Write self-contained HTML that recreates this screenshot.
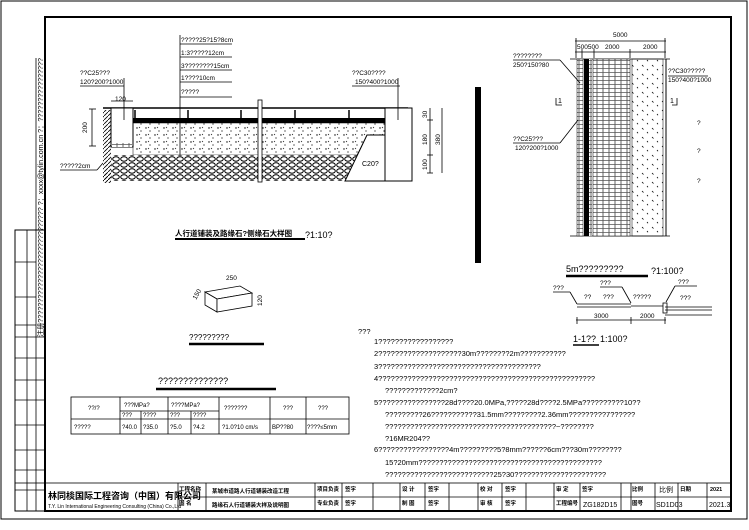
<!DOCTYPE html>
<html><head><meta charset="utf-8"><style>
html,body{margin:0;padding:0;background:#fff}
svg{display:block}
text{font-family:"Liberation Sans","Noto Sans CJK SC",sans-serif;fill:#000}
</style></head><body>
<svg width="749" height="530" viewBox="0 0 749 530" xmlns="http://www.w3.org/2000/svg">
<defs>
<pattern id="hatch" width="4" height="4" patternUnits="userSpaceOnUse"><path d="M0 4L4 0" stroke="#000" stroke-width="0.8"/></pattern>
<pattern id="dots" width="9" height="7" patternUnits="userSpaceOnUse"><circle cx="2" cy="2" r="0.7"/><circle cx="6" cy="5" r="0.6"/><path d="M4 1l1 1" stroke="#000" stroke-width="0.6"/></pattern>
<pattern id="gravel" width="8" height="6" patternUnits="userSpaceOnUse"><rect width="8" height="6" fill="#fff"/><ellipse cx="4" cy="3" rx="3.3" ry="2.2" fill="none" stroke="#000" stroke-width="1"/></pattern>
<pattern id="brick" width="6" height="4" patternUnits="userSpaceOnUse"><rect width="6" height="4" fill="#fff"/><path d="M0 0.5H6M3 0.5V4" stroke="#000" stroke-width="0.6"/></pattern>
<pattern id="pdots" width="10" height="9" patternUnits="userSpaceOnUse"><path d="M2 2l1.5 1.5M7 6l1 1.2" stroke="#000" stroke-width="0.8"/></pattern>
</defs>
<rect x="1" y="1" width="746" height="518" fill="none" stroke="#000" stroke-width="1"/>
<rect x="45" y="17" width="686" height="494" fill="none" stroke="#000" stroke-width="2"/>
<!-- left strip -->
<rect x="15" y="230" width="30" height="281" fill="none" stroke="#000" stroke-width="1"/>
<line x1="27" y1="230" x2="27" y2="511" stroke="#000" stroke-width="0.8"/>
<line x1="36" y1="58" x2="36" y2="511" stroke="#000" stroke-width="0.8"/>
<g stroke="#000" stroke-width="0.8">
<line x1="15" y1="262" x2="36" y2="262"/><line x1="15" y1="297" x2="36" y2="297"/><line x1="15" y1="325" x2="36" y2="325"/><line x1="15" y1="337" x2="45" y2="337"/><line x1="15" y1="358" x2="45" y2="358"/><line x1="15" y1="380" x2="45" y2="380"/><line x1="15" y1="400" x2="45" y2="400"/><line x1="15" y1="425" x2="45" y2="425"/><line x1="15" y1="450" x2="45" y2="450"/><line x1="15" y1="470" x2="45" y2="470"/><line x1="15" y1="490" x2="45" y2="490"/>
</g>
<text transform="translate(43,337) rotate(-90)" font-size="7" textLength="279" lengthAdjust="spacingAndGlyphs">注册?????????????????????????????  ?：xxxx@tylin.com.cn  ?：????????????????</text>
<!-- top-left section -->
<rect x="103" y="110" width="8" height="73" fill="url(#hatch)"/>
<rect x="103" y="173" width="242" height="8" fill="url(#hatch)"/>
<line x1="103" y1="108" x2="408" y2="108" stroke="#000" stroke-width="1.5"/>
<rect x="111" y="108" width="22" height="39" fill="#fff" stroke="#000"/>
<rect x="112" y="143" width="20" height="4" fill="url(#brick)"/>
<rect x="133" y="118" width="252" height="5" fill="#000"/>
<polygon points="133,123 385,123 385,135 367,135 357,155 133,155" fill="url(#dots)" stroke="#000" stroke-width="0.5"/>
<polygon points="111,155 357,155 349,173 111,173" fill="url(#gravel)"/>
<polygon points="111,173 349,173 345,181 111,181" fill="url(#gravel)"/>
<polygon points="367,135 385,135 385,181 345,181" fill="#fff" stroke="#000"/>
<text x="362" y="166" font-size="7">C20?</text>
<rect x="385" y="108" width="27" height="73" fill="#fff" stroke="#000"/>
<rect x="258" y="100" width="4" height="82" fill="#fff" stroke="#000" stroke-width="0.8"/>
<g stroke="#000" stroke-width="1.5"><line x1="135" y1="110" x2="135" y2="118"/><line x1="188" y1="110" x2="188" y2="118"/><line x1="241" y1="110" x2="241" y2="118"/><line x1="295" y1="110" x2="295" y2="118"/><line x1="349" y1="110" x2="349" y2="118"/></g>
<g stroke="#000" stroke-width="0.8" fill="none">
<line x1="180" y1="35" x2="180" y2="155"/>
<line x1="180" y1="44" x2="232" y2="44"/><line x1="180" y1="57" x2="232" y2="57"/><line x1="180" y1="70" x2="232" y2="70"/><line x1="180" y1="82" x2="232" y2="82"/><line x1="180" y1="97" x2="232" y2="97"/>
<line x1="80" y1="86" x2="124" y2="86"/><line x1="124" y1="78" x2="124" y2="120"/>
<line x1="352" y1="86" x2="400" y2="86"/><line x1="398" y1="78" x2="398" y2="120"/>
<line x1="60" y1="170" x2="97" y2="170"/><line x1="97" y1="170" x2="103" y2="163"/>
<line x1="92" y1="109" x2="92" y2="146"/><line x1="89" y1="109" x2="96" y2="109"/><line x1="89" y1="146" x2="96" y2="146"/>
<line x1="111" y1="101" x2="133" y2="101"/>
<line x1="430" y1="108" x2="430" y2="173"/><line x1="442" y1="108" x2="442" y2="173"/>
<line x1="427" y1="120" x2="433" y2="120"/><line x1="427" y1="155" x2="433" y2="155"/><line x1="427" y1="173" x2="433" y2="173"/>
</g>
<g font-size="6.5">
<text x="181" y="42">?????25?15?8cm</text><text x="181" y="55">1:3?????12cm</text><text x="181" y="68">3????????15cm</text><text x="181" y="80">1????10cm</text><text x="181" y="94">?????</text>
<text x="80" y="75">??C25???</text><text x="80" y="84">120?200?1000</text>
<text x="352" y="75">??C30????</text><text x="355" y="84">150?400?1000</text>
<text x="60" y="168">?????2cm</text><text x="115" y="101">120</text>
<text transform="translate(87,133) rotate(-90)">200</text>
<text transform="translate(427,118) rotate(-90)">30</text>
<text transform="translate(427,145) rotate(-90)">180</text>
<text transform="translate(427,170) rotate(-90)">100</text>
<text transform="translate(440,145) rotate(-90)">380</text>
</g>
<text x="175" y="236" font-size="7.5" font-weight="bold">人行道铺装及路缘石?侧缘石大样图</text>
<line x1="175" y1="239" x2="305" y2="239" stroke="#000" stroke-width="2"/>
<text x="305" y="238" font-size="9">?1:10?</text>
<!-- curb stone -->
<g stroke="#000" stroke-width="0.8" fill="#fff">
<polygon points="205,292 240,286 252,293 217,299"/>
<polygon points="205,292 217,299 217,312 205,305"/>
<polygon points="217,299 252,293 252,306 217,312"/>
</g>
<g font-size="6.5"><text x="226" y="280">250</text><text transform="translate(196,300) rotate(-60)">150</text><text transform="translate(262,306) rotate(-90)">120</text></g>
<text x="189" y="340" font-size="8">?????????</text>
<line x1="189" y1="344" x2="264" y2="344" stroke="#000" stroke-width="2.5"/>
<!-- table -->
<text x="158" y="384" font-size="9">??????????????</text>
<line x1="156" y1="389" x2="276" y2="389" stroke="#000" stroke-width="2.5"/>
<g stroke="#000" stroke-width="0.8" fill="none">
<rect x="71" y="397" width="278" height="37"/>
<line x1="71" y1="419" x2="349" y2="419"/>
<line x1="120" y1="411" x2="219" y2="411"/>
<line x1="120" y1="397" x2="120" y2="434"/><line x1="141" y1="411" x2="141" y2="434"/><line x1="168" y1="397" x2="168" y2="434"/><line x1="191" y1="411" x2="191" y2="434"/><line x1="219" y1="397" x2="219" y2="434"/><line x1="270" y1="397" x2="270" y2="434"/><line x1="306" y1="397" x2="306" y2="434"/>
</g>
<g font-size="6">
<text x="88" y="410">??/?</text><text x="124" y="407">???MPa?</text><text x="171" y="407">????MPa?</text><text x="224" y="410">???????</text><text x="283" y="410">???</text><text x="318" y="410">???</text>
<text x="122" y="417">???</text><text x="143" y="417">????</text><text x="170" y="417">???</text><text x="193" y="417">????</text>
<text x="74" y="429">?????</text><text x="122" y="429">?40.0</text><text x="143" y="429">?35.0</text><text x="170" y="429">?5.0</text><text x="193" y="429">?4.2</text><text x="222" y="429">?1.0?10 cm/s</text><text x="272" y="429">BP??80</text><text x="307" y="429">????≤5mm</text>
</g>
<!-- notes -->
<g font-size="7.5">
<text x="358" y="334">???</text>
<text x="374" y="344">1??????????????????</text>
<text x="374" y="356">2????????????????????30m????????2m???????????</text>
<text x="374" y="369">3???????????????????????????????????????</text>
<text x="374" y="381">4????????????????????????????????????????????????????</text>
<text x="385" y="393">?????????????2cm?</text>
<text x="374" y="405">5????????????????28d????20.0MPa,?????28d????2.5MPa??????????10??</text>
<text x="385" y="417">?????????26???????????31.5mm?????????2.36mm?????????7??????</text>
<text x="385" y="429">?????????????????????????????????????????~????????</text>
<text x="385" y="441">?16MR204??</text>
<text x="374" y="452">6?????????????????4m?????????5?8mm??????6cm???30m????????</text>
<text x="385" y="465">15?20mm????????????????????????????????????????????</text>
<text x="385" y="477">??????????????????????????25?30??????????????????????</text>
</g>
<!-- black bar -->
<rect x="475" y="87" width="6" height="176" fill="#000"/>
<!-- right plan -->
<g stroke="#000" stroke-width="0.8" fill="none">
<line x1="575" y1="41" x2="666" y2="41"/><line x1="575" y1="52" x2="666" y2="52"/>
<line x1="576" y1="38" x2="576" y2="58"/><line x1="665" y1="38" x2="665" y2="58"/><line x1="630" y1="49" x2="630" y2="58"/><line x1="582" y1="49" x2="582" y2="58"/><line x1="594" y1="49" x2="594" y2="58"/>
<line x1="570" y1="59" x2="670" y2="59"/><line x1="570" y1="236" x2="670" y2="236"/>
</g>
<rect x="577" y="59" width="6" height="177" fill="url(#brick)" stroke="#000" stroke-width="0.5"/>
<rect x="584" y="59" width="5" height="177" fill="#000"/>
<rect x="589" y="59" width="3" height="177" fill="url(#brick)"/>
<rect x="593" y="59" width="37" height="177" fill="url(#brick)" stroke="#000" stroke-width="0.5"/>
<rect x="632" y="59" width="31" height="177" fill="url(#pdots)" stroke="#000" stroke-width="0.5"/>
<line x1="666" y1="59" x2="666" y2="236" stroke="#000"/>
<g font-size="6.5">
<text x="613" y="37">5000</text><text x="577" y="49">500500</text><text x="605" y="49">2000</text><text x="643" y="49">2000</text>
<text x="513" y="58">????????</text><text x="513" y="67">250?150?80</text>
<text x="513" y="141">??C25???</text><text x="515" y="150">120?200?1000</text>
<text x="668" y="73">??C30?????</text><text x="668" y="82">150?400?1000</text>
<text x="697" y="125">?</text><text x="697" y="153">?</text><text x="697" y="183">?</text>
</g>
<g stroke="#000" stroke-width="0.8" fill="none">
<line x1="513" y1="60" x2="560" y2="60"/><line x1="560" y1="60" x2="580" y2="83"/>
<line x1="513" y1="143" x2="560" y2="143"/><line x1="560" y1="143" x2="578" y2="120"/>
<line x1="708" y1="76" x2="668" y2="76"/>
<path d="M556 98v7h6"/><path d="M677 98v7h-5"/>
</g>
<text x="558" y="103" font-size="7">1</text><text x="670" y="103" font-size="7">1</text>
<!-- 5m section -->
<text x="566" y="272" font-size="9">5m?????????</text>
<line x1="566" y1="276" x2="648" y2="276" stroke="#000" stroke-width="2.5"/>
<text x="651" y="274" font-size="9">?1:100?</text>
<g stroke="#000" stroke-width="0.8" fill="none">
<line x1="577" y1="304" x2="631" y2="304"/><line x1="577" y1="307" x2="631" y2="307"/>
<line x1="631" y1="306" x2="663" y2="306"/>
<rect x="663" y="303" width="4" height="10"/>
<line x1="665" y1="307" x2="712" y2="307"/><line x1="665" y1="310" x2="712" y2="310"/><line x1="665" y1="315" x2="712" y2="315"/>
<line x1="553" y1="292" x2="570" y2="292"/><line x1="570" y1="292" x2="577" y2="304"/>
<line x1="600" y1="287" x2="622" y2="287"/><line x1="622" y1="287" x2="631" y2="303"/>
<line x1="675" y1="286" x2="697" y2="286"/><line x1="675" y1="286" x2="666" y2="302"/>
<line x1="576" y1="320" x2="666" y2="320"/><line x1="577" y1="317" x2="577" y2="324"/><line x1="631" y1="317" x2="631" y2="324"/><line x1="665" y1="317" x2="665" y2="324"/>
</g>
<g font-size="6.5">
<text x="553" y="290">???</text><text x="584" y="299">??</text><text x="603" y="299">???</text><text x="633" y="299">?????</text><text x="600" y="285">???</text><text x="678" y="284">???</text><text x="680" y="300">???</text>
<text x="594" y="318">3000</text><text x="640" y="318">2000</text>
</g>
<text x="573" y="342" font-size="9">1-1??</text><line x1="573" y1="345" x2="599" y2="345" stroke="#000" stroke-width="1.5"/>
<text x="600" y="342" font-size="9">1:100?</text>
<!-- title block -->
<g stroke="#000" stroke-width="0.8" fill="none">
<rect x="15" y="483" width="716" height="28"/>
<line x1="178" y1="497" x2="731" y2="497"/>
<line x1="178" y1="483" x2="178" y2="511"/><line x1="206" y1="483" x2="206" y2="511"/><line x1="315" y1="483" x2="315" y2="511"/><line x1="342" y1="483" x2="342" y2="511"/><line x1="373" y1="483" x2="373" y2="511"/><line x1="400" y1="483" x2="400" y2="511"/><line x1="425" y1="483" x2="425" y2="511"/><line x1="449" y1="483" x2="449" y2="511"/><line x1="478" y1="483" x2="478" y2="511"/><line x1="502" y1="483" x2="502" y2="511"/><line x1="526" y1="483" x2="526" y2="511"/><line x1="554" y1="483" x2="554" y2="511"/><line x1="580" y1="483" x2="580" y2="511"/><line x1="621" y1="483" x2="621" y2="511"/><line x1="631" y1="483" x2="631" y2="511"/><line x1="655" y1="483" x2="655" y2="511"/><line x1="678" y1="483" x2="678" y2="511"/><line x1="707" y1="483" x2="707" y2="511"/>
</g>
<text x="48" y="499" font-size="9" font-weight="bold">林同棪国际工程咨询（中国）有限公司</text>
<text x="48" y="508" font-size="5">T.Y. Lin International Engineering Consulting (China) Co.,Ltd</text>
<g font-size="5.5" font-weight="bold">
<text x="179" y="491">工程名称</text><text x="179" y="505">图 名</text>
<text x="212" y="493">某城市道路人行道铺装改造工程</text><text x="212" y="507">路缘石人行道铺装大样及说明图</text>
<text x="317" y="491">项目负责</text><text x="317" y="505">专业负责</text><text x="345" y="491">签字</text><text x="345" y="505">签字</text>
<text x="402" y="491">设 计</text><text x="402" y="505">制 图</text><text x="428" y="491">签字</text><text x="428" y="505">签字</text>
<text x="480" y="491">校 对</text><text x="480" y="505">审 核</text><text x="505" y="491">签字</text><text x="505" y="505">签字</text>
<text x="556" y="491">审 定</text><text x="556" y="505">工程编号</text><text x="582" y="491">签字</text>
<text x="632" y="491">比例</text><text x="632" y="505">图号</text><text x="680" y="491">日期</text><text x="710" y="491">2021</text>
</g>
<g font-size="7"><text x="583" y="507">ZG182D15</text><text x="656" y="507">SD1D03</text><text x="709" y="507">2021.3</text><text x="659" y="492">比例</text></g>
</svg>
</body></html>
